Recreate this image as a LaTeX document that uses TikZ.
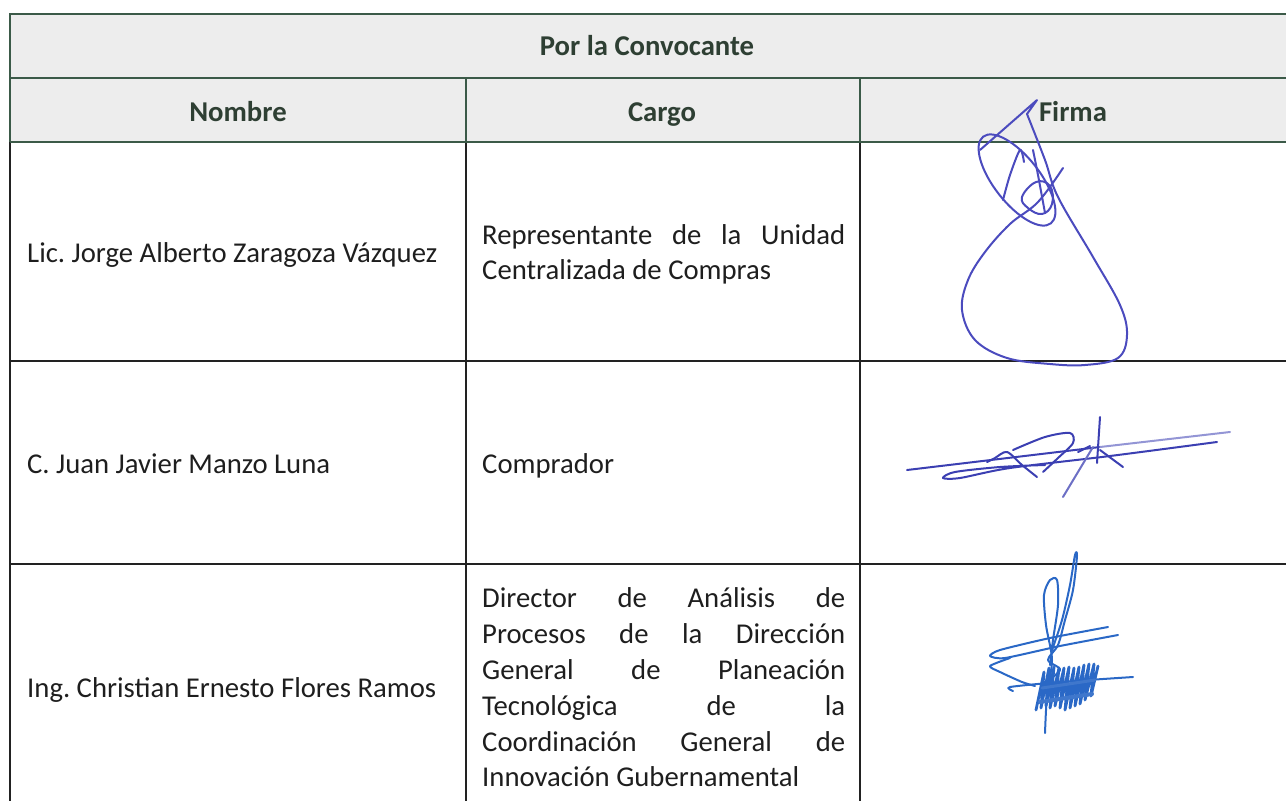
\documentclass[tikz,border=0pt]{standalone}
\usepackage{fontspec}
\setmainfont{Carlito}
\frenchspacing
\definecolor{hdrfill}{HTML}{EDEDED}
\definecolor{hdrtext}{HTML}{2E3F33}
\definecolor{bodytext}{HTML}{1E1E1E}
\definecolor{hdrline}{HTML}{3B5A48}
\definecolor{bodyline}{HTML}{222222}
\definecolor{sigA}{HTML}{4B4BBE}
\definecolor{sigB}{HTML}{3B3FB2}
\definecolor{sigC}{HTML}{2A68C6}
\begin{document}
\begin{tikzpicture}[x=1pt,y=-1pt,
  hdr/.style={font=\fontsize{28.7}{35}\selectfont\bfseries, text=hdrtext, inner sep=0pt, anchor=base},
  body/.style={font=\fontsize{28.7}{35.3}\selectfont, text=bodytext, inner sep=0pt, anchor=base west},
  hline/.style={draw=hdrline, line width=2pt},
  bline/.style={draw=bodyline, line width=1.8pt},
  sigstroke/.style={line width=2pt, line cap=round, line join=round}]
\useasboundingbox (0,0) rectangle (1286,801);
% header background
\fill[hdrfill] (10,14) rectangle (1286,142);
% body lines
\draw[bline] (10,142) -- (10,801);
\draw[bline] (466,142) -- (466,801);
\draw[bline] (860,142) -- (860,801);
\draw[bline] (10,361) -- (1286,361);
\draw[bline] (10,564) -- (1286,564);
% header lines
\draw[hline] (10,14) -- (1286,14);
\draw[hline] (10,78) -- (1286,78);
\draw[hline] (10,142) -- (1286,142);
\draw[hline] (10,13) -- (10,142);
\draw[hline] (466,78) -- (466,142);
\draw[hline] (860,78) -- (860,142);
% header texts
\node[hdr] (conv) at (647,55) {Por la Convocante};
\node[hdr] (nombre) at (238,121) {Nombre};
\node[hdr] (cargo) at (662,121) {Cargo};
\node[hdr] (firma) at (1073,121) {Firma};
% column 1
\node[body] (n1) at (27,262) {Lic. Jorge Alberto Zaragoza Vázquez};
\node[body] (n2) at (27,473) {C. Juan Javier Manzo Luna};
\node[body] (n3) at (27,697) {Ing. Christian Ernesto Flores Ramos};
% column 2
\node[body] (c1a) at (482,244) {\makebox[363pt][s]{Representante de la Unidad}};
\node[body] (c1b) at (482,279) {Centralizada de Compras};
\node[body] (c2) at (482,473) {Comprador};
\node[body] (c3a) at (482,607) {\makebox[363pt][s]{Director de Análisis de}};
\node[body] (c3b) at (482,643) {\makebox[363pt][s]{Procesos de la Dirección}};
\node[body] (c3c) at (482,679) {\makebox[363pt][s]{General de Planeación}};
\node[body] (c3d) at (482,715) {\makebox[363pt][s]{Tecnológica de la}};
\node[body] (c3e) at (482,751) {\makebox[363pt][s]{Coordinación General de}};
\node[body] (c3f) at (482,786) {Innovación Gubernamental};
% signature 1
\begin{scope}[sigstroke, draw=sigA]
\draw (980,150) -- (1037,100) -- (1027,114);
\draw plot[smooth, tension=0.6] coordinates {(1027,114) (1045,160) (1058,197) (1093,257) (1120,305) (1127,335) (1118,358) (1085,365) (1050,364) (1007,358) (975,340) (962,310) (968,280) (985,252) (1010,224) (1038,202) (1063,168)};
\draw[rotate around={-52:(1017,180)}] (1017,180) ellipse (55 and 23);
\draw plot[smooth, tension=0.5] coordinates {(1003,200) (1010,175) (1020,150) (1024,162)};
\draw plot[smooth cycle, tension=0.7] coordinates {(1022,197) (1036,182) (1050,186) (1052,204) (1042,214) (1028,208)};
\draw plot[smooth, tension=0.4] coordinates {(1033,150) (1038,175) (1045,213)};
\end{scope}
% signature 2
\begin{scope}[sigstroke, draw=sigB]
\draw (907,470) -- (1100,447);
\draw[sigB!55] (1100,447) -- (1230,432);
\draw plot[smooth, tension=0.5] coordinates {(1217,442) (1110,456) (1010,468) (960,478) (943,478) (955,472) (1000,467) (1045,465)};
\draw plot[smooth, tension=0.5] coordinates {(987,462) (995,458) (1007,452) (1022,465) (1037,477)};
\draw plot[smooth, tension=0.5] coordinates {(1013,450) (1045,437) (1070,433) (1073,443) (1058,458) (1043,472)};
\draw (1100,417) -- (1097,463);
\draw[sigB!75] (1093,447) -- (1063,497);
\draw (1100,450) -- (1123,467);
\draw (1078,452) -- (1090,446);
\end{scope}
% signature 3
\begin{scope}[sigstroke, draw=sigC]
\draw plot[smooth, tension=0.5] coordinates {(1045,733) (1047,695) (1052,660) (1046,625) (1044,595) (1050,580) (1057,580) (1058,605) (1053,640) (1050,665)};
\draw plot[smooth, tension=0.5] coordinates {(1052,650) (1062,620) (1070,585) (1075,555) (1077,556) (1073,590) (1065,620) (1058,645) (1048,660) (1060,670) (1042,685)};
\draw plot[smooth, tension=0.4] coordinates {(1108,627) (1050,638) (1000,650) (990,656) (1005,658) (1060,646) (1118,635)};
\draw plot[smooth, tension=0.4] coordinates {(1010,658) (990,666) (1000,672) (1022,682) (1035,686)};
\draw plot[smooth, tension=0.4] coordinates {(1013,691) (1010,687) (1060,682) (1133,677)};
\draw[line width=2.8pt] (1036,710) -- (1044,672) -- (1041,708) -- (1049,668) -- (1046,706) -- (1054,667) -- (1050,708) -- (1059,668) -- (1055,706) -- (1064,668) -- (1060,708) -- (1069,667) -- (1065,710) -- (1074,668) -- (1070,708) -- (1079,667) -- (1075,706) -- (1084,665) -- (1080,704) -- (1089,664) -- (1085,700) -- (1094,664) -- (1091,696) -- (1098,666);
\draw[line width=4pt, sigC!90] (1040,702) -- (1092,694);
\draw[line width=3pt, sigC!90] (1042,688) -- (1095,680);
\end{scope}
\end{tikzpicture}
\end{document}
